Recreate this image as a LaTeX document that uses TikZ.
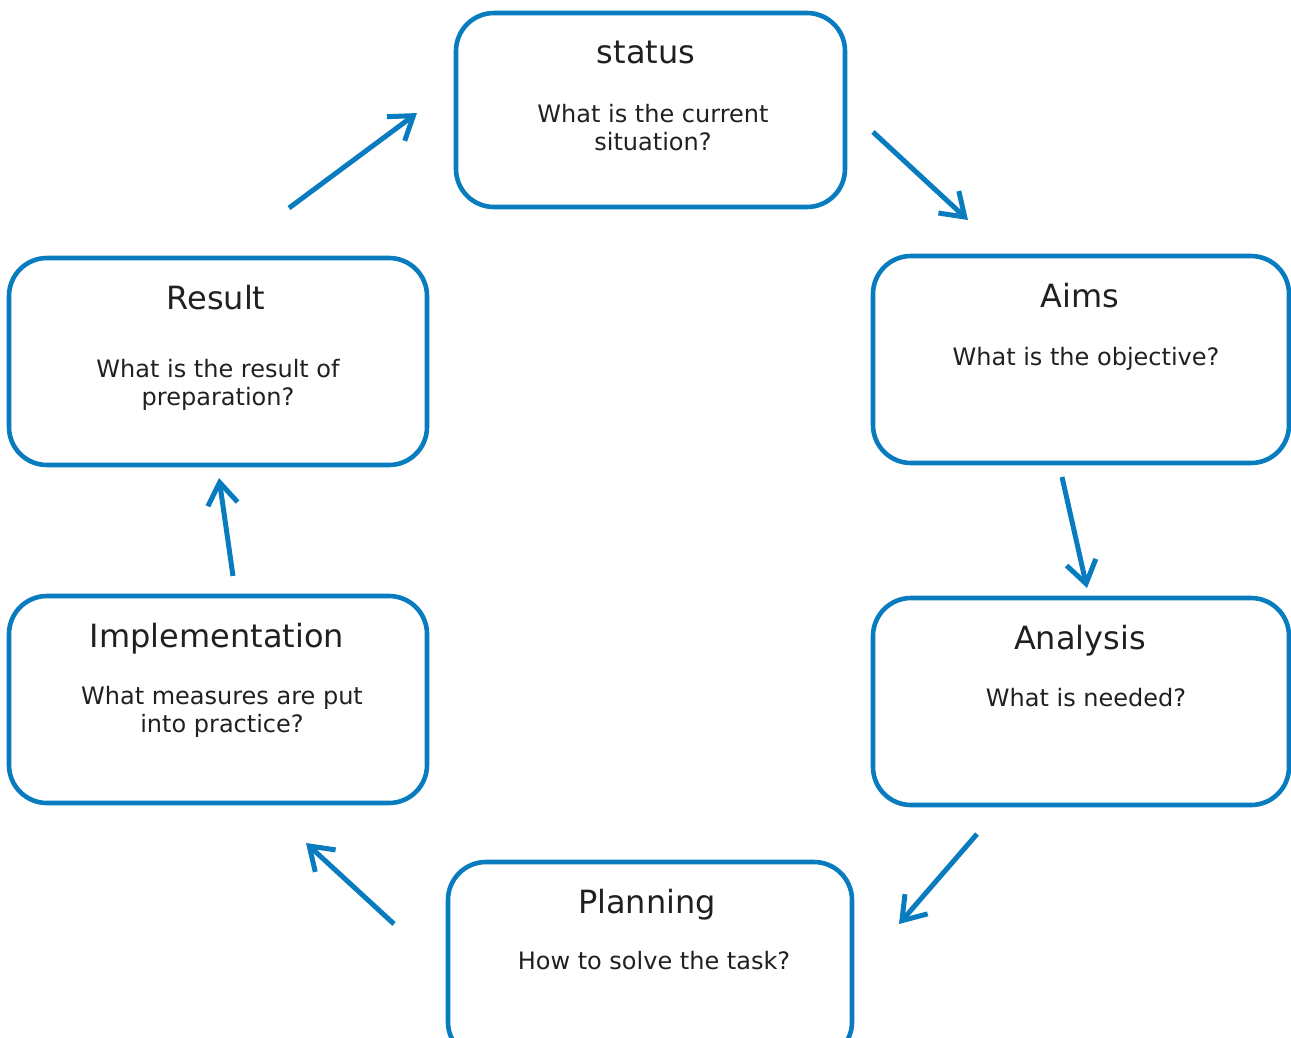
\documentclass[tikz,border=0pt]{standalone}
\usepackage{fontspec}
\setmainfont{DejaVu Sans}
\usetikzlibrary{arrows.meta}
\definecolor{cycblue}{RGB}{8,124,190}
\definecolor{txt}{RGB}{35,31,32}
\begin{document}
\begin{tikzpicture}[x=1pt,y=-1pt,
  box/.style={draw=cycblue,line width=4.6pt,rounded corners=38pt,rectangle,inner sep=0pt},
  ttl/.style={anchor=base,text=txt,font=\fontsize{32}{36}\selectfont,inner sep=0pt},
  sub/.style={anchor=base,text=txt,align=center,font=\fontsize{24}{28}\selectfont,inner sep=0pt},
  flow/.style={draw=cycblue,line width=5pt,-{Straight Barb[length=22pt,width=30pt,line width=5pt]}}]
\clip (0,0) rectangle (1291,1037);
\node[box,minimum width=389pt,minimum height=194pt] (status) at (650.5,110) {};
\node[box,minimum width=416pt,minimum height=207pt] (aims) at (1081,359.5) {};
\node[box,minimum width=416pt,minimum height=207pt] (analysis) at (1081,701.5) {};
\node[box,minimum width=404pt,minimum height=198pt] (planning) at (650,961) {};
\node[box,minimum width=418pt,minimum height=207pt] (impl) at (218,699.5) {};
\node[box,minimum width=418pt,minimum height=207pt] (result) at (218,361.5) {};
% texts
\node[ttl] (statusT) at (646,63) {status};
\node[sub] (statusS) at (653,150) {What is the current\\situation?};
\node[ttl] (aimsT) at (1080,307) {Aims};
\node[sub] (aimsS) at (1086,365) {What is the objective?};
\node[ttl] (analysisT) at (1080,649) {Analysis};
\node[sub] (analysisS) at (1086,706) {What is needed?};
\node[ttl] (planningT) at (647,913) {Planning};
\node[sub] (planningS) at (654,969) {How to solve the task?};
\node[ttl] (implT) at (217,647) {Implementation};
\node[sub] (implS) at (222,732) {What measures are put\\into practice?};
\node[ttl] (resultT) at (216,309) {Result};
\node[sub] (resultS) at (218,405) {What is the result of\\preparation?};
% arrow ends
\coordinate (a1s) at (289,208); \coordinate (a1e) at (417,113);
\coordinate (a2s) at (873,132); \coordinate (a2e) at (968,220);
\coordinate (a3s) at (1062,477); \coordinate (a3e) at (1087,588);
\coordinate (a4s) at (977,834); \coordinate (a4e) at (899,924);
\coordinate (a5s) at (394,924); \coordinate (a5e) at (306,843);
\coordinate (a6s) at (233,576); \coordinate (a6e) at (219,478);
\draw[flow] (a1s) -- (a1e);
\draw[flow] (a2s) -- (a2e);
\draw[flow] (a3s) -- (a3e);
\draw[flow] (a4s) -- (a4e);
\draw[flow] (a5s) -- (a5e);
\draw[flow] (a6s) -- (a6e);
\end{tikzpicture}
\end{document}
